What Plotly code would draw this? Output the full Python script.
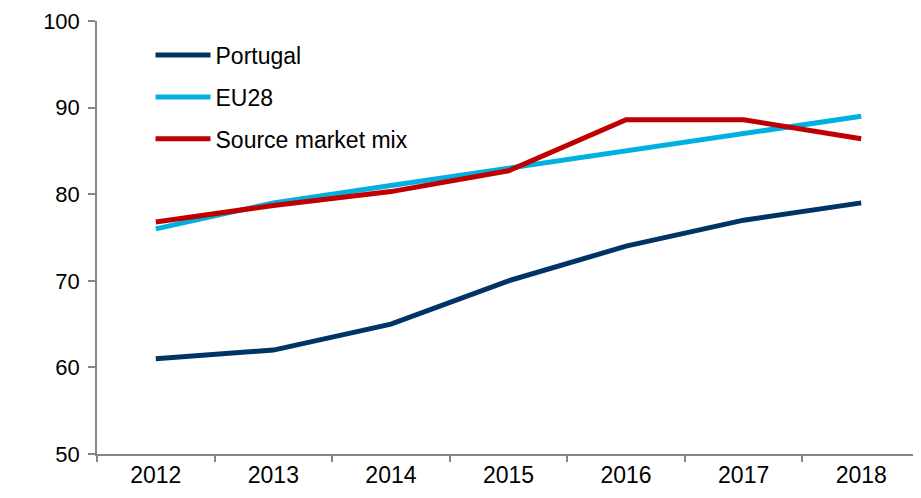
import plotly.graph_objects as go

years = ["2012", "2013", "2014", "2015", "2016", "2017", "2018"]
portugal = [61, 62, 65, 70, 74, 77, 79]
eu28 = [76, 79, 81, 83, 85, 87, 89]
source_mix = [76.8, 78.7, 80.3, 82.7, 88.6, 88.6, 86.4]

series = [
    ("Portugal", portugal, "#003466"),
    ("EU28", eu28, "#00B0E0"),
    ("Source market mix", source_mix, "#C00000"),
]

fig = go.Figure()
for name, vals, color in series:
    fig.add_trace(go.Scatter(
        x=years, y=vals, name=name, mode="lines",
        line=dict(color=color, width=5),
        legendgroup=name,
    ))

axis_color = "#868686"
fig.update_layout(
    width=913, height=490,
    margin=dict(l=89, r=1, t=10, b=44),
    paper_bgcolor="white", plot_bgcolor="white",
    font=dict(family="Liberation Sans, Arial, sans-serif", size=22, color="#000000"),
    showlegend=True,
    legend=dict(x=0.065, y=0.971, xanchor="left", yanchor="top",
                bgcolor="rgba(0,0,0,0)", tracegroupgap=9,
                itemwidth=55, font=dict(size=23)),
    xaxis=dict(
        type="category", range=[-0.5, 6.5], tickson="boundaries",
        showline=True, linecolor=axis_color, linewidth=1.5,
        ticks="outside", ticklen=6, tickcolor=axis_color, tickwidth=1.5,
        showgrid=False, zeroline=False, tickfont=dict(size=23),
    ),
    yaxis=dict(
        range=[50, 100], dtick=10, tick0=50,
        showline=True, linecolor=axis_color, linewidth=1.5,
        ticks="outside", ticklen=7, tickcolor=axis_color, tickwidth=1.5,
        showgrid=False, zeroline=False, ticklabelstandoff=4,
        ticklabeloverflow="allow",
    ),
)

fig.write_html("out.html")
